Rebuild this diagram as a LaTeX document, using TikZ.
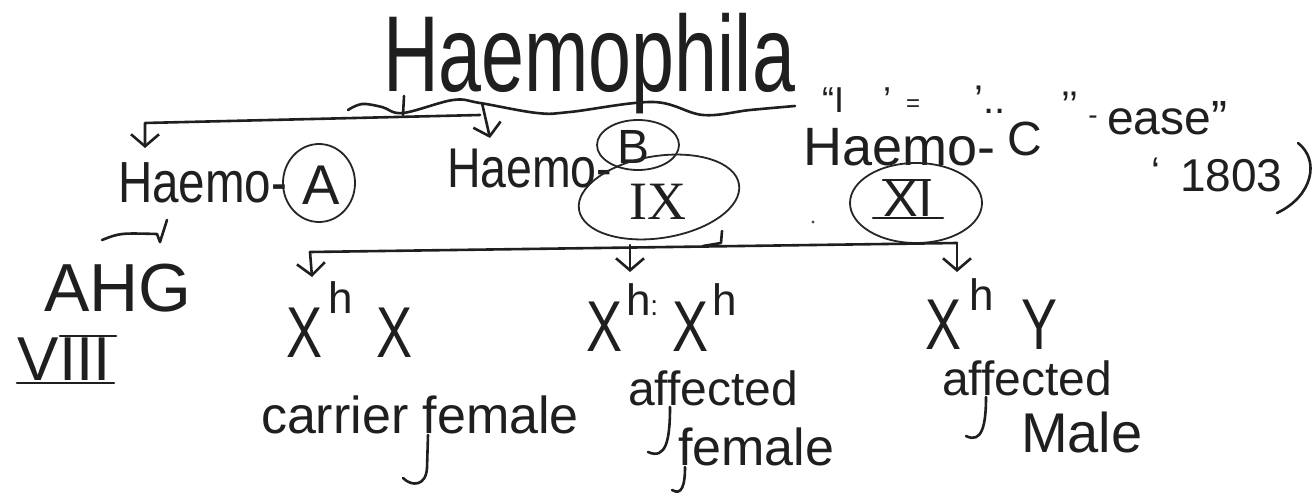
\documentclass[tikz,border=0pt]{standalone}
\usepackage{fontspec}
\setmainfont{Liberation Sans}
\newfontfamily\serifnum{Liberation Serif}
\usetikzlibrary{arrows.meta,shapes.geometric}
\newcommand\fsz[1]{\fontsize{#1}{#1}\selectfont}
\newcommand\XX{\scalebox{0.75}[1]{X}}
\newcommand\YY{\scalebox{0.75}[1]{Y}}
\begin{document}
\begin{tikzpicture}[x=0.5pt,y=-0.5pt,
  txt/.style={inner sep=0pt, outer sep=0pt, text=black!88},
  pen/.style={line width=1.3pt, line cap=round, line join=round, draw=black!88},
  thinpen/.style={line width=0.9pt, draw=black!85},
  ell/.style={ellipse, thinpen, draw, inner sep=0pt, outer sep=0pt},
  arr/.style={pen, -{Straight Barb[length=6pt,width=14pt]}},
]
\useasboundingbox[fill=white] (0,0) rectangle (1316,497);

% title and wavy underline
\node[txt, anchor=base west] (title) at (383,92) {\fsz{54}\scalebox{0.715}[1]{Haemophila}};
\draw[pen] plot[smooth, tension=0.6] coordinates {(348,110) (362,104) (382,107) (403,113) (453,100) (480,103) (537,113) (570,112) (653,102) (703,115) (750,110) (795,106)};

% top branching
\coordinate (j1) at (480,115);
\coordinate (barL) at (145,123);
\coordinate (tipA) at (145,148);
\coordinate (upb) at (403,115);
\coordinate (upt) at (404,96);
\coordinate (jb) at (482,103);
\coordinate (tipB) at (490,138);
\draw[arr] (j1) -- (barL) -- (tipA);
\draw[pen] (upb) -- (upt);
\draw[arr] (jb) -- (tipB);

% Haemo A
\node[txt, anchor=base west] (hA) at (118,203) {\fsz{29}\scalebox{0.82}[1]{Haemo-}};
\node[ell, minimum width=36pt, minimum height=39pt] (cA) at (319,183) {};
\node[txt] (lA) at (321,185) {\fsz{28}A};

% Haemo B / IX
\node[txt, anchor=base west] (hB) at (447,188) {\fsz{28}\scalebox{0.83}[1]{Haemo-}};
\node[ell, minimum width=41pt, minimum height=25pt] (cB) at (638,145) {};
\node[txt] (lB) at (633,147) {\fsz{24}B};
\node[ell, rotate=9, minimum width=81pt, minimum height=41pt] (cIX) at (659,197) {};
\node[txt] (lIX) at (658,202) {\fsz{27}\serifnum IX};

% Haemo C / XI
\node[txt, anchor=base west] (hC) at (803,166) {\fsz{27}Haemo-\hspace{6pt}\raisebox{5pt}{\fsz{24}C}};
\node[ell, minimum width=66pt, minimum height=40pt] (cXI) at (916,203) {};
\node[txt] (lXI) at (908,199) {\fsz{26}XI};
\draw[pen] (883,180) -- (930,180);
\draw[pen] (873,218) -- (943,218);

% faded quoted text
\node[txt] (q1) at (833,100) {\fsz{18}“I};
\node[txt] (q2) at (887,100) {\fsz{18}’};
\node[txt] (q3) at (913,106) {\fsz{12}=};
\node[txt] (q4) at (990,100) {\fsz{20}’..};
\node[txt] (q5) at (1070,106) {\fsz{20}’’};
\node[txt] (q6) at (1093,120) {\fsz{14}-};
\node[txt, anchor=base west] (ease) at (1107,135) {\fsz{24}ease”};
\node[txt] (q7) at (1156,172) {\fsz{20}‘};
\node[txt, anchor=base west] (yr) at (1180,192) {\fsz{23}1803};
\draw[pen] (1298,143) .. controls (1320,160) and (1313,196) .. (1277,213);
\fill[black!70] (813,222) circle (1.6);

% AHG / VIII
\draw[pen] (102,240) .. controls (120,233) .. (157,234) -- (160,242) -- (167,220);
\node[txt, anchor=base west] (ahg) at (44,311) {\fsz{34}AHG};
\node[txt, anchor=base west] (v8) at (18,380) {\fsz{31}VIII};
\draw[pen] (60,336) -- (116,336);
\draw[pen] (17,383) -- (114,383);

% lower branching
\coordinate (lb1) at (310,252);
\coordinate (lb2) at (630,245);
\coordinate (lb3) at (957,243);
\coordinate (t1) at (312,277);
\coordinate (t2) at (630,272);
\coordinate (t3) at (957,272);
\coordinate (hk1) at (722,231);
\coordinate (hk2) at (721,243);
\coordinate (hk3) at (703,246);
\draw[pen] (lb1) -- (lb3);
\draw[arr] (lb1) -- (t1);
\draw[arr] (lb2) -- (t2);
\draw[arr] (lb3) -- (t3);
\draw[pen] (hk1) -- (hk2) -- (hk3);

% genotypes
\node[txt, anchor=base west] (g1) at (286,357) {\fsz{36}\XX\hspace{3pt}\raisebox{22pt}{\fsz{22}h}\hspace{12pt}\XX};
\node[txt, anchor=base west] (g2) at (586,351) {\fsz{36}\XX\hspace{2pt}\raisebox{18pt}{\fsz{22}h\fsz{14}:}\hspace{7pt}\XX\hspace{2pt}\raisebox{18pt}{\fsz{22}h}};
\node[txt, anchor=base west] (g3) at (925,349) {\fsz{36}\XX\hspace{4pt}\raisebox{19.5pt}{\fsz{22}h}\hspace{14pt}\YY};

% labels
\node[txt, anchor=base west] (lab1) at (261,433) {\fsz{26}carrier female};
\draw[pen] (428,435) -- (427,468) .. controls (426,486) and (412,487) .. (403,478);
\node[txt, anchor=base west] (lab2a) at (628,405) {\fsz{24}affected};
\node[txt, anchor=base west] (lab2b) at (678,465) {\fsz{26}female};
\draw[pen] (670,407) .. controls (670,440) and (666,460) .. (648,452);
\draw[pen] (685,467) .. controls (685,485) and (682,496) .. (672,490);
\node[txt, anchor=base west] (lab3a) at (942,395) {\fsz{24}affected};
\node[txt, anchor=base west] (lab3b) at (1021,452) {\fsz{28}Male};
\draw[pen] (986,397) .. controls (986,425) and (982,444) .. (966,436);
\end{tikzpicture}
\end{document}
